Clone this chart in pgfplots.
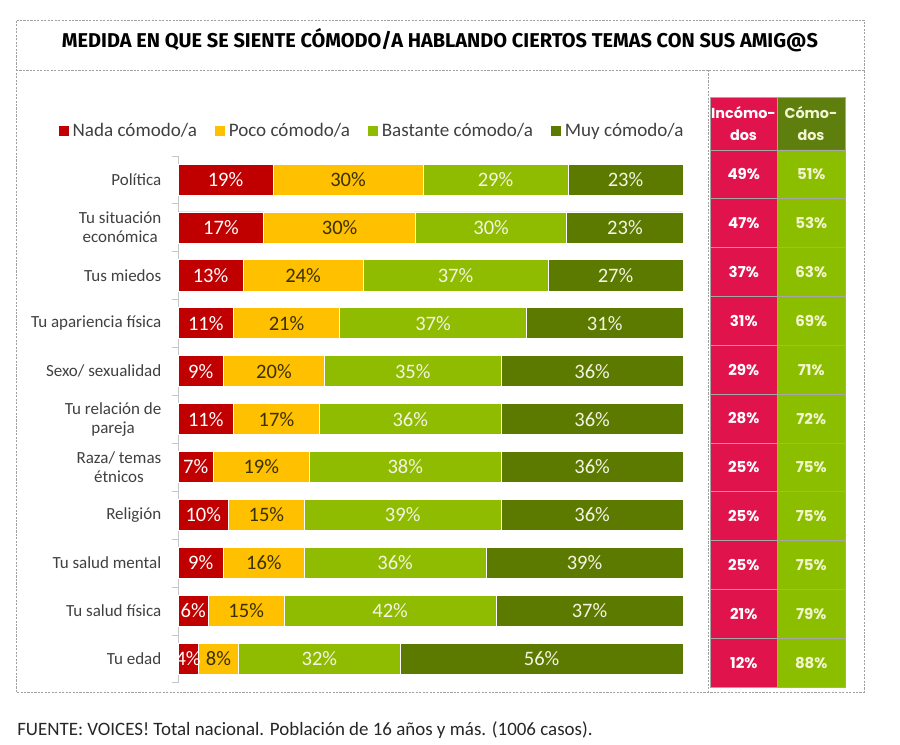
\documentclass[border=0pt]{standalone}
\usepackage{fontspec}
\setmainfont{Carlito}
\newfontfamily\titlefont{Fira Sans}
\newfontfamily\popfont{Poppins}
\usepackage{pgfplots}
\pgfplotsset{compat=1.18}
\usepackage{pgfplotstable}

\definecolor{cnada}{HTML}{C00000}
\definecolor{cpoco}{HTML}{FFC000}
\definecolor{cbast}{HTML}{8FBC00}
\definecolor{cmuy}{HTML}{5C7A00}
\definecolor{cinc}{HTML}{E0134C}
\definecolor{ccomh}{HTML}{5E7E0E}
\definecolor{ccom}{HTML}{8CBE00}
\definecolor{cframe}{HTML}{A0A0A0}
\definecolor{ctext}{HTML}{404040}
\definecolor{ccream}{HTML}{F4F4E2}
\definecolor{cyel}{HTML}{F2F5CF}
\definecolor{cdark}{HTML}{3A3000}

\pgfplotstableread{
row nada poco bast muy inc com
0 19 30 29 23 49 51
1 17 30 30 23 47 53
2 13 24 37 27 37 63
3 11 21 37 31 31 69
4 9 20 35 36 29 71
5 11 17 36 36 28 72
6 7 19 38 36 25 75
7 10 15 39 36 25 75
8 9 16 36 39 25 75
9 6 15 42 37 21 79
10 4 8 32 56 12 88
}\data

\newcommand{\tot}{(\thisrow{nada}+\thisrow{poco}+\thisrow{bast}+\thisrow{muy})}

\begin{document}
\begin{tikzpicture}[x=0.75pt,y=0.75pt]
\useasboundingbox (0,0) rectangle (900,745);
% frame
\draw[cframe, dash pattern=on 1.6pt off 1pt, line width=0.6pt] (16,53) rectangle (864,725);
\draw[cframe, dash pattern=on 1.6pt off 1pt, line width=0.6pt] (16,675) -- (864,675);
\draw[cframe, dash pattern=on 1.6pt off 1pt, line width=0.6pt] (708,675) -- (708,53);
% title
\node[anchor=base, inner sep=0pt] at (440,697) {\resizebox{567pt}{!}{\titlefont\bfseries MEDIDA EN QUE SE SIENTE CÓMODO/A HABLANDO CIERTOS TEMAS CON SUS AMIG@S}};

% main bars
\begin{axis}[
  at={(133.5pt,46.8pt)}, anchor=south west,
  scale only axis, width=378.75pt, height=395.2pt,
  xbar stacked, bar width=0.65,
  xmin=0, xmax=100, ymin=-0.5, ymax=10.5, y dir=reverse,
  axis x line=none, axis y line*=left,
  y axis line style={draw=gray!45, -},
  xtick=\empty,
  ytick={0,...,10},
  yticklabels={Política, {Tu situación\\económica}, Tus miedos, Tu apariencia física, Sexo/ sexualidad, {Tu relación de\\pareja}, {Raza/ temas\\étnicos}, Religión, Tu salud mental, Tu salud física, Tu edad},
  yticklabel style={align=center, font=\fontsize{12.75}{14.3}\selectfont, text=ctext, xshift=-9pt},
  major tick length=0pt,
  minor ytick={-0.5,0.5,...,10.5},
  minor tick length=4.5pt,
  tick align=outside,
  minor tick style={gray!45},
  clip=false,
  legend columns=4,
  legend image code/.code={\fill[#1] (0pt,-4.1pt) rectangle (8.2pt,4.1pt);},
  legend style={at={(axis description cs:-0.2376,1.0476)}, anchor=west, draw=none, fill=none,
    font=\fontsize{14.3}{15}\selectfont, text=ctext, inner sep=0pt,
    /tikz/every even column/.append style={column sep=11pt}},
]
\addplot[fill=cnada, draw=white, line width=0.6pt] table[x expr={\thisrow{nada}*100/\tot}, y=row]{\data};
\addplot[fill=cpoco, draw=white, line width=0.6pt] table[x expr={\thisrow{poco}*100/\tot}, y=row]{\data};
\addplot[fill=cbast, draw=white, line width=0.6pt] table[x expr={\thisrow{bast}*100/\tot}, y=row]{\data};
\addplot[fill=cmuy, draw=white, line width=0.6pt] table[x expr={\thisrow{muy}*100/\tot}, y=row]{\data};
\legend{Nada cómodo/a, Poco cómodo/a, Bastante cómodo/a, Muy cómodo/a}
\end{axis}

% bar labels
\begin{axis}[
  at={(133.5pt,46.8pt)}, anchor=south west,
  scale only axis, width=378.75pt, height=395.2pt,
  xmin=0, xmax=100, ymin=-0.5, ymax=10.5, y dir=reverse,
  hide axis, clip=false,
  point meta=explicit symbolic,
  nodes near coords={\pgfplotspointmeta\%},
  every node near coord/.append style={anchor=center, inner sep=0pt, font=\fontsize{15.4}{16}\selectfont},
]
\addplot[draw=none, mark=none, every node near coord/.append style={text=white}] table[x expr={(\thisrow{nada}/2)*100/\tot}, y=row, meta=nada]{\data};
\addplot[draw=none, mark=none, every node near coord/.append style={text=cdark}] table[x expr={(\thisrow{nada}+\thisrow{poco}/2)*100/\tot}, y=row, meta=poco]{\data};
\addplot[draw=none, mark=none, every node near coord/.append style={text=ccream}] table[x expr={(\thisrow{nada}+\thisrow{poco}+\thisrow{bast}/2)*100/\tot}, y=row, meta=bast]{\data};
\addplot[draw=none, mark=none, every node near coord/.append style={text=ccream}] table[x expr={(\thisrow{nada}+\thisrow{poco}+\thisrow{bast}+\thisrow{muy}/2)*100/\tot}, y=row, meta=muy]{\data};
\end{axis}

% right panel header
\fill[cinc] (710,595) rectangle (777,648);
\fill[ccomh] (777,595) rectangle (845,648);
\draw[gray!70, line width=0.5pt] (710,595) rectangle (845,648);
\draw[gray!70, line width=0.5pt] (777,595) -- (777,648);
\node[align=center, font=\popfont\bfseries\fontsize{10.8}{17}\selectfont, text=white] at (743.5,621.5) {Incómo-\\dos};
\node[align=center, font=\popfont\bfseries\fontsize{10.8}{17}\selectfont, text=cyel] at (811,621.5) {Cómo-\\dos};

% right panel cells
\begin{axis}[
  at={(532.5pt,43.5pt)}, anchor=south west,
  scale only axis, width=101.25pt, height=402.75pt,
  xbar stacked, bar width=1,
  xmin=0, xmax=2, ymin=-0.5, ymax=10.5, y dir=reverse,
  hide axis, clip=false,
]
\addplot[fill=cinc, draw=gray!70, line width=0.5pt] table[x expr=1, y=row]{\data};
\addplot[fill=ccom, draw=gray!70, line width=0.5pt] table[x expr=1, y=row]{\data};
\end{axis}
\begin{axis}[
  at={(532.5pt,43.5pt)}, anchor=south west,
  scale only axis, width=101.25pt, height=402.75pt,
  xmin=0, xmax=2, ymin=-0.5, ymax=10.5, y dir=reverse,
  hide axis, clip=false,
  point meta=explicit symbolic,
  nodes near coords={\pgfplotspointmeta\%},
  every node near coord/.append style={anchor=center, inner sep=0pt, font=\popfont\bfseries\fontsize{11.25}{13}\selectfont},
]
\addplot[draw=none, mark=none, every node near coord/.append style={text=white}] table[x expr=0.5, y=row, meta=inc]{\data};
\addplot[draw=none, mark=none, every node near coord/.append style={text=cyel}] table[x expr=1.5, y=row, meta=com]{\data};
\end{axis}

% footnote
\node[anchor=base west, inner sep=0pt, font=\fontsize{14.2}{16}\selectfont, text=black!85] at (17,9) {FUENTE: VOICES! Total nacional. Población de 16 años y más. (1006 casos).};
\end{tikzpicture}
\end{document}
